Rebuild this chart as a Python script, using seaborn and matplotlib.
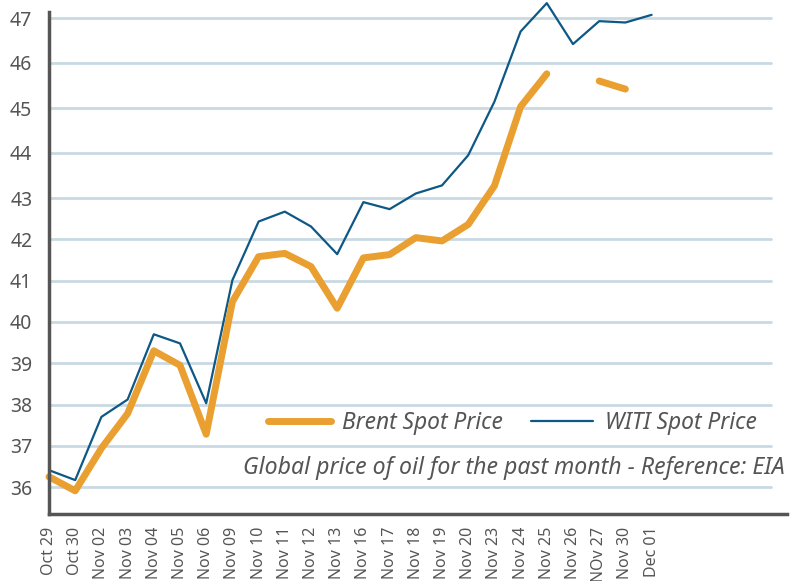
import numpy as np
import pandas as pd
import matplotlib
matplotlib.use("Agg")
import matplotlib.pyplot as plt
from matplotlib.lines import Line2D
import seaborn as sns

dates = ["Oct 29", "Oct 30", "Nov 02", "Nov 03", "Nov 04", "Nov 05", "Nov 06",
         "Nov 09", "Nov 10", "Nov 11", "Nov 12", "Nov 13", "Nov 16", "Nov 17",
         "Nov 18", "Nov 19", "Nov 20", "Nov 23", "Nov 24", "Nov 25", "Nov 26",
         "NOv 27", "Nov 30", "Dec 01"]
brent = [36.25, 35.91, 36.94, 37.78, 39.30, 38.95, 37.28, 40.49, 41.58, 41.66,
         41.34, 40.33, 41.55, 41.63, 42.04, 41.96, 42.36, 43.27, 45.03, 45.76,
         np.nan, 45.60, 45.42, np.nan]
witi = [36.41, 36.17, 37.70, 38.12, 39.70, 39.48, 38.03, 41.01, 42.43, 42.67,
        42.31, 41.64, 42.90, 42.73, 43.10, 43.28, 43.95, 45.14, 46.70, 47.33,
        46.42, 46.93, 46.90, 47.07]
yticks = list(range(36, 48))

ORANGE = "#EA9F31"
BLUE = "#0D5884"
GRAY = "#555555"
GRID = "#C9D9E3"

sns.set_theme(style="white")
plt.rcParams["font.family"] = ["Noto Sans", "DejaVu Sans"]

fig = plt.figure(figsize=(8.02, 5.81), dpi=100)
W, H = 802, 581
x0, x1 = 49, 787
ytop, ybot = 0, 514
ax = fig.add_axes([x0 / W, (H - ybot) / H, (x1 - x0) / W, (ybot - ytop) / H])

# piecewise-linear y scale to mirror the reference's uneven spacing
LO, HI = 41.3, 45.0
def fwd(v):
    v = np.asarray(v, dtype=float)
    return np.where(v <= 43, (v - 43) * LO, (v - 43) * HI)
def inv(u):
    u = np.asarray(u, dtype=float)
    return np.where(u <= 0, u / LO + 43, u / HI + 43)
ax.set_yscale("function", functions=(fwd, inv))

idx = np.arange(len(dates))
seg = np.cumsum(np.isnan(np.array(brent, dtype=float)))
df_b = pd.DataFrame({"x": idx, "y": brent, "seg": seg}).dropna()
df_w = pd.DataFrame({"x": idx, "y": witi})

y_min = 43 - (ybot - 198) / LO
y_max = 43 + (198 - ytop) / HI
ax.set_xlim(0, (x1 - x0) / 26.2)
ax.set_ylim(y_min, y_max)

xmax_frac = (771 - x0) / (x1 - x0)
for t in yticks:
    ax.axhline(t, xmin=0, xmax=xmax_frac, color=GRID, lw=2, zorder=0)

sns.lineplot(data=df_w, x="x", y="y", color=BLUE, lw=1.6, ax=ax,
             estimator=None, sort=False)
sns.lineplot(data=df_b, x="x", y="y", units="seg", estimator=None, sort=False,
             color=ORANGE, lw=5, ax=ax)
for ln in ax.get_lines():
    ln.set_clip_on(False)

ax.set_xticks(idx)
ax.set_xticklabels(dates, rotation=90, color=GRAY, fontsize=11.5)
ax.set_yticks(yticks)
ax.set_yticklabels([str(t) for t in yticks], color=GRAY, fontsize=14)
ax.tick_params(axis="both", length=0)
ax.tick_params(axis="y", pad=12)
ax.tick_params(axis="x", pad=9)
ax.set_xlabel("")
ax.set_ylabel("")

for s in ["top", "right"]:
    ax.spines[s].set_visible(False)
for s in ["left", "bottom"]:
    ax.spines[s].set_color(GRAY)
    ax.spines[s].set_linewidth(2.5)
ax.spines["left"].set_bounds(y_min, 43 + (198 - 12) / HI)

handles = [Line2D([], [], color=ORANGE, lw=5), Line2D([], [], color=BLUE, lw=1.6)]
leg = ax.legend(handles, ["Brent Spot Price", "WITI Spot Price"], ncol=2,
                frameon=False, loc="center right",
                bbox_to_anchor=((757 - x0) / (x1 - x0), (ybot - 423) / (ybot - ytop)),
                prop={"family": "Noto Sans", "style": "italic", "size": 16.4},
                handlelength=2.75, handletextpad=0.52, columnspacing=1.2,
                borderaxespad=0, borderpad=0)
for t in leg.get_texts():
    t.set_color(GRAY)

ax.text((785 - x0) / (x1 - x0), (ybot - 468) / (ybot - ytop),
        "Global price of oil for the past month - Reference: EIA",
        transform=ax.transAxes, ha="right", va="center", color=GRAY,
        fontsize=16.6, fontstyle="italic", family="Noto Sans")

fig.savefig("out.png", dpi=100)
